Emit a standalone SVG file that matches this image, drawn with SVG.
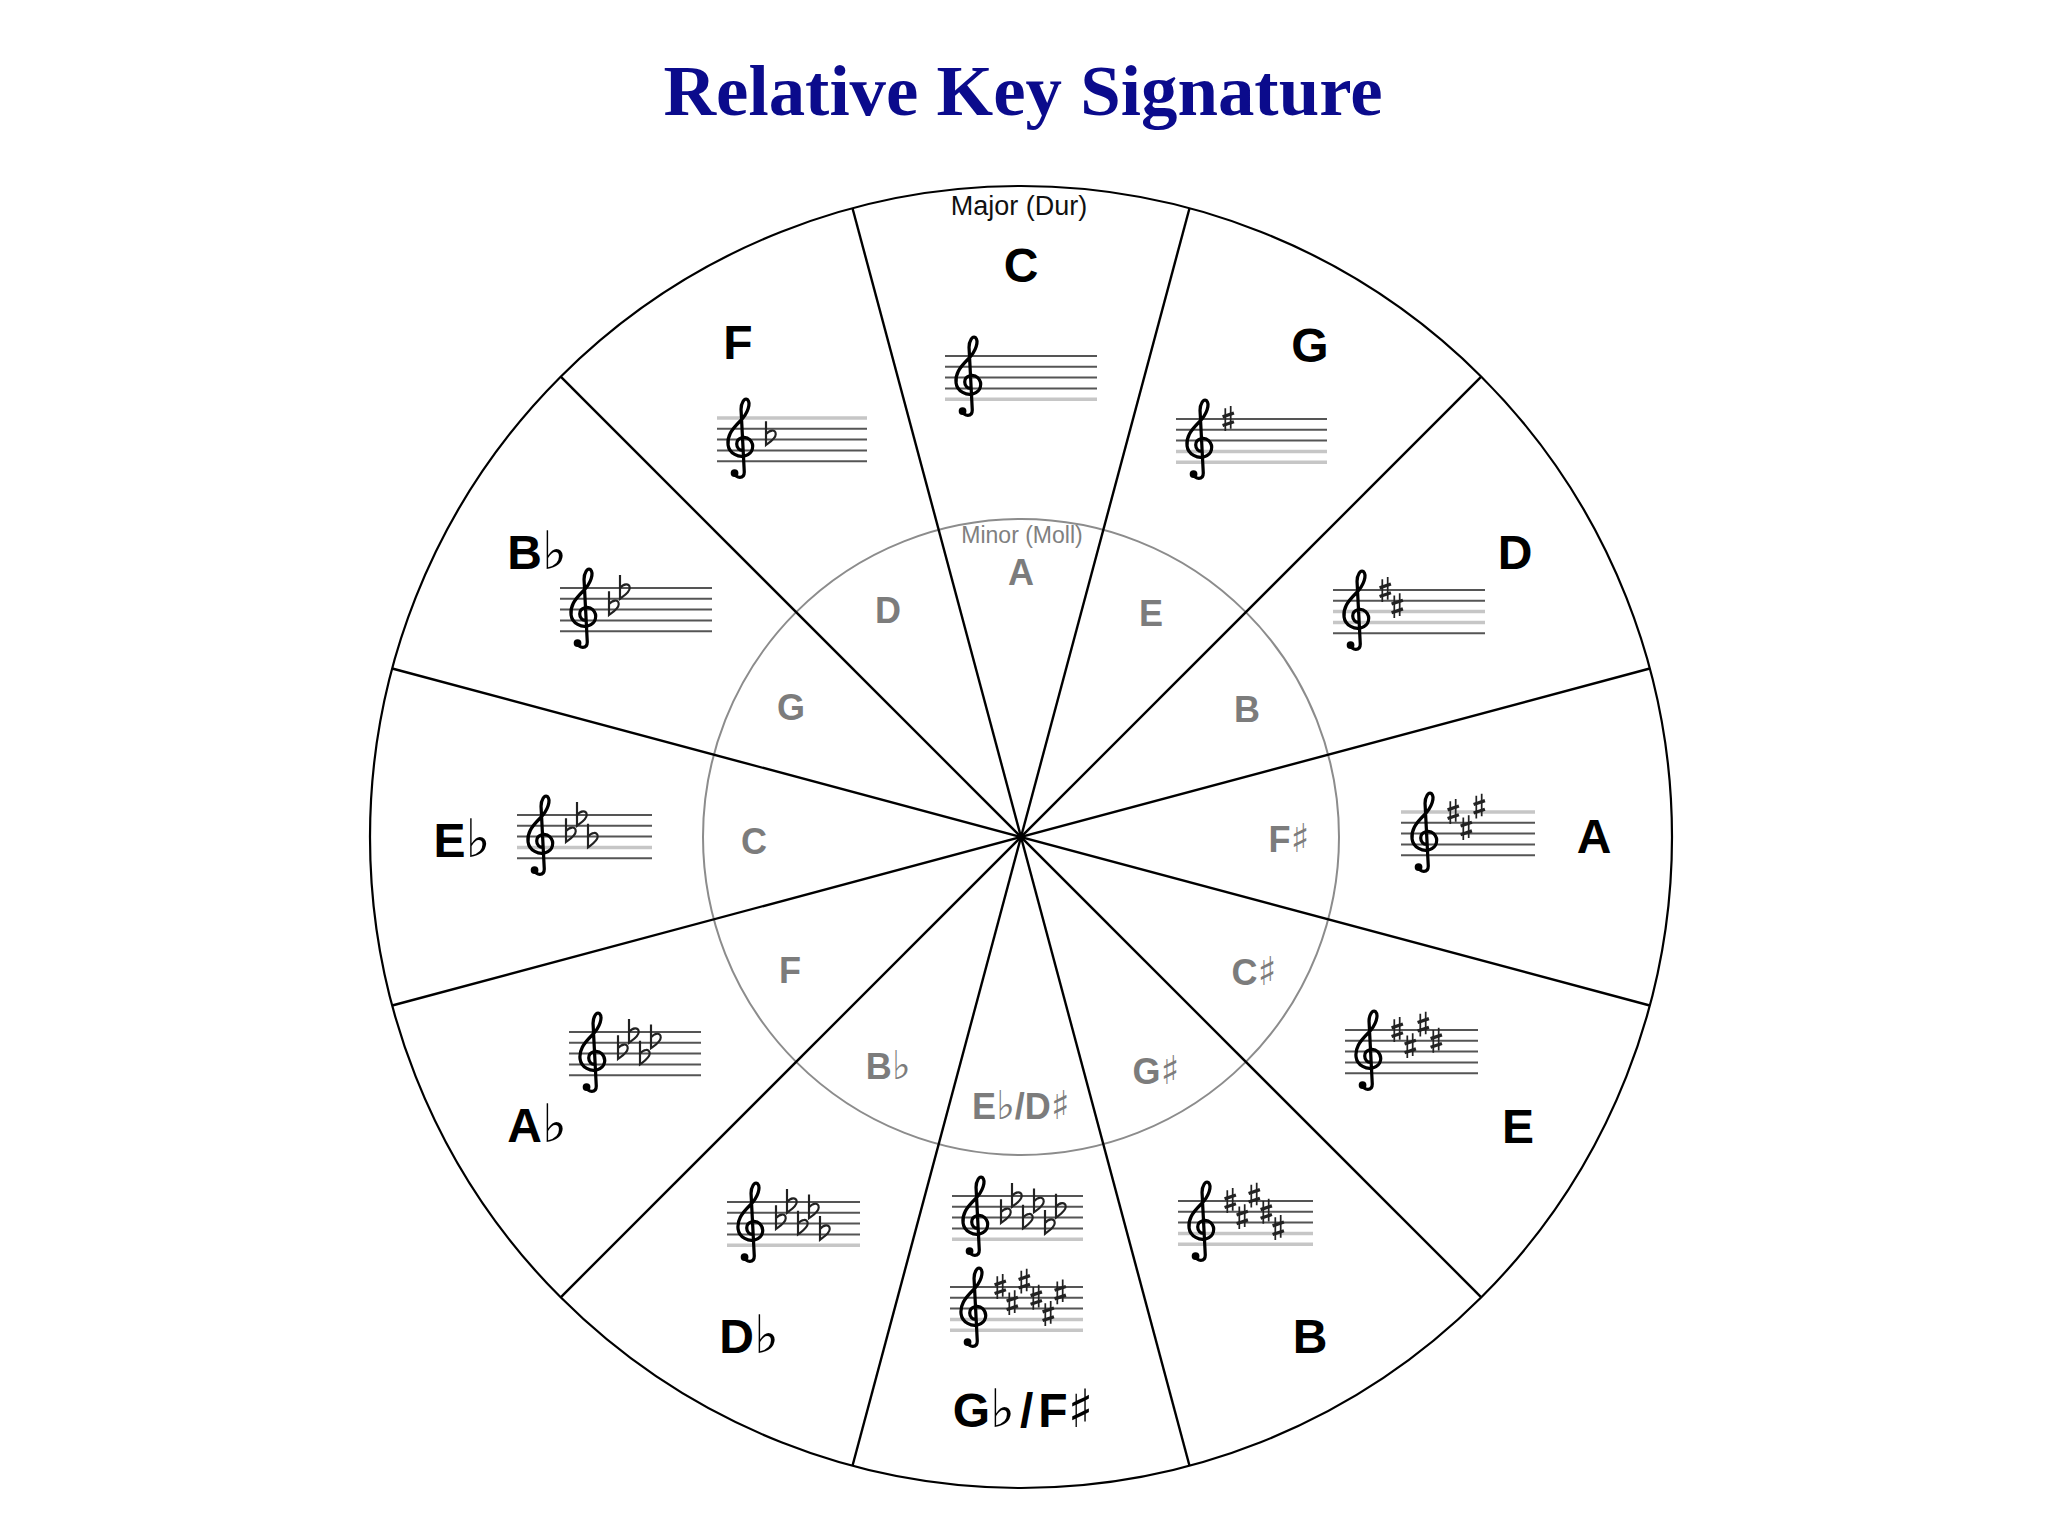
<svg xmlns="http://www.w3.org/2000/svg" xmlns:xlink="http://www.w3.org/1999/xlink" width="2048" height="1536" viewBox="0 0 2048 1536">
<style>
.title{font-family:"Liberation Serif","Times New Roman",serif;font-weight:bold;font-size:72px;fill:#0b0b8c;text-anchor:middle}
.maj{font-family:"Liberation Sans",Arial,sans-serif;font-weight:bold;font-size:48px;fill:#000;text-anchor:middle}
.min{font-family:"Liberation Sans",Arial,sans-serif;font-weight:bold;font-size:36px;fill:#7c7c7c;text-anchor:middle}
.cap{font-family:"Liberation Sans",Arial,sans-serif;font-size:27px;fill:#111;text-anchor:middle}
.capm{font-family:"Liberation Sans",Arial,sans-serif;font-size:23px;fill:#808080;text-anchor:middle}
.acc{font-family:"DejaVu Sans",sans-serif;font-weight:normal;font-size:1.1em}
.sl{stroke:#555;stroke-width:2;fill:none}
.sg{stroke:#c6c6c6;stroke-width:3.5;fill:none}
.sector{stroke:#000;stroke-width:2.4}
</style>
<defs>
<g id="clef">
<circle cx="7" cy="51" r="3.6" fill="#000"/>
<path d="M 7,51 C 8,56 16,57 16,50 L 13,-8 C 13,-14 16,-19 19,-17 C 22,-14 20,-5 12,3 C 4,11 0,17 1,25 C 2,33 11,37 17,35 C 24,33 26,25 21,20 C 17,16 9,18 9,24 C 9,28 12,30 14,30" fill="none" stroke="#000" stroke-width="3" stroke-linecap="round" stroke-linejoin="round"/>
</g>
<path id="flat" d="M 0,-17 L 0,5 C 4,2 9,-1 9,-5 C 9,-10 3,-9 0,-5" fill="none" stroke="#222" stroke-width="2"/>
<g id="sharp" stroke="#222">
<path d="M -2.5,-10 L -2.5,11 M 2.5,-12 L 2.5,9" stroke-width="1.6"/>
<path d="M -5,-2 L 5.5,-5.5 M -5,6 L 5.5,2.5" stroke-width="3"/>
</g>
</defs>
<rect width="2048" height="1536" fill="#fff"/>
<text id="title" class="title" x="1023" y="115" textLength="719" lengthAdjust="spacingAndGlyphs">Relative Key Signature</text>

<g id="wheel">
<circle cx="1021" cy="837" r="651" fill="none" stroke="#000" stroke-width="2.2"/>
<circle cx="1021" cy="837" r="318" fill="none" stroke="#8c8c8c" stroke-width="2"/>
</g>
<g id="connectors" class="sector">
<line x1="1189.5" y1="208.2" x2="852.5" y2="1465.8"/>
<line x1="1481.3" y1="376.7" x2="560.7" y2="1297.3"/>
<line x1="1649.8" y1="668.5" x2="392.2" y2="1005.5"/>
<line x1="1649.8" y1="1005.5" x2="392.2" y2="668.5"/>
<line x1="1481.3" y1="1297.3" x2="560.7" y2="376.7"/>
<line x1="1189.5" y1="1465.8" x2="852.5" y2="208.2"/>
</g>

<g id="major-labels">
<text class="cap" x="1019" y="215">Major (Dur)</text>
<text id="maj-C" class="maj" x="1021" y="282">C</text>
<text id="maj-G" class="maj" x="1310" y="362">G</text>
<text id="maj-D" class="maj" x="1515" y="569">D</text>
<text id="maj-A" class="maj" x="1594" y="853">A</text>
<text id="maj-E" class="maj" x="1518" y="1143">E</text>
<text id="maj-B" class="maj" x="1310" y="1353">B</text>
<text id="maj-Gb" class="maj" x="1023" y="1427">G<tspan class="acc">♭</tspan><tspan dx="5">/</tspan><tspan dx="5">F</tspan><tspan class="acc">♯</tspan></text>
<text id="maj-Db" class="maj" x="749" y="1353">D<tspan class="acc">♭</tspan></text>
<text id="maj-Ab" class="maj" x="537" y="1142">A<tspan class="acc">♭</tspan></text>
<text id="maj-Eb" class="maj" x="462" y="857">E<tspan class="acc">♭</tspan></text>
<text id="maj-Bb" class="maj" x="537" y="569">B<tspan class="acc">♭</tspan></text>
<text id="maj-F" class="maj" x="738" y="359">F</text>
</g>

<g id="minor-labels">
<text class="capm" x="1022" y="543">Minor (Moll)</text>
<text id="min-A" class="min" x="1021" y="585">A</text>
<text id="min-E" class="min" x="1151" y="626">E</text>
<text id="min-B" class="min" x="1247" y="722">B</text>
<text id="min-Fs" class="min" x="1289" y="852">F<tspan class="acc">♯</tspan></text>
<text id="min-Cs" class="min" x="1254" y="985">C<tspan class="acc">♯</tspan></text>
<text id="min-Gs" class="min" x="1156" y="1084">G<tspan class="acc">♯</tspan></text>
<text id="min-Eb" class="min" x="1021" y="1119">E<tspan class="acc">♭</tspan>/D<tspan class="acc">♯</tspan></text>
<text id="min-Bb" class="min" x="888" y="1079">B<tspan class="acc">♭</tspan></text>
<text id="min-F" class="min" x="790" y="983">F</text>
<text id="min-C" class="min" x="754" y="854">C</text>
<text id="min-G" class="min" x="791" y="720">G</text>
<text id="min-D" class="min" x="888" y="623">D</text>
</g>

<g id="staff-C">
<path class="sl" d="M945,356H1097M945,366.8H1097M945,377.6H1097M945,388.4H1097"/>
<path class="sg" d="M945,399.2H1097"/>
<use href="#clef" transform="translate(955,356) scale(1.08)"/>
</g>
<g id="staff-G">
<path class="sl" d="M1176,419H1327M1176,429.8H1327M1176,440.6H1327"/>
<path class="sg" d="M1176,451.4H1327M1176,462.2H1327"/>
<use href="#clef" transform="translate(1186,419) scale(1.08)"/>
<use href="#sharp" transform="translate(1228,419) scale(1.08)"/>
</g>
<g id="staff-D">
<path class="sl" d="M1333,590H1485M1333,600.8H1485M1333,633.2H1485"/>
<path class="sg" d="M1333,611.6H1485M1333,622.4H1485"/>
<use href="#clef" transform="translate(1343,590) scale(1.08)"/>
<use href="#sharp" transform="translate(1385,590) scale(1.08)"/>
<use href="#sharp" transform="translate(1397,606.2) scale(1.08)"/>
</g>
<g id="staff-A">
<path class="sg" d="M1401,812H1535"/>
<path class="sl" d="M1401,822.8H1535M1401,833.6H1535M1401,844.4H1535M1401,855.2H1535"/>
<use href="#clef" transform="translate(1411,812) scale(1.08)"/>
<use href="#sharp" transform="translate(1453,812) scale(1.08)"/>
<use href="#sharp" transform="translate(1466,828.2) scale(1.08)"/>
<use href="#sharp" transform="translate(1479,806.6) scale(1.08)"/>
</g>
<g id="staff-E">
<path class="sl" d="M1345,1030H1478M1345,1040.8H1478M1345,1051.6H1478M1345,1062.4H1478M1345,1073.2H1478"/>
<use href="#clef" transform="translate(1355,1030) scale(1.08)"/>
<use href="#sharp" transform="translate(1397,1030) scale(1.08)"/>
<use href="#sharp" transform="translate(1410,1046.2) scale(1.08)"/>
<use href="#sharp" transform="translate(1423,1024.6) scale(1.08)"/>
<use href="#sharp" transform="translate(1436,1040.8) scale(1.08)"/>
</g>
<g id="staff-B">
<path class="sl" d="M1178,1201H1313M1178,1211.8H1313M1178,1222.6H1313"/>
<path class="sg" d="M1178,1233.4H1313M1178,1244.2H1313"/>
<use href="#clef" transform="translate(1188,1201) scale(1.08)"/>
<use href="#sharp" transform="translate(1230,1201) scale(1.08)"/>
<use href="#sharp" transform="translate(1242,1217.2) scale(1.08)"/>
<use href="#sharp" transform="translate(1254,1195.6) scale(1.08)"/>
<use href="#sharp" transform="translate(1266,1211.8) scale(1.08)"/>
<use href="#sharp" transform="translate(1278,1228) scale(1.08)"/>
</g>
<g id="staff-Gb">
<path class="sl" d="M952,1196H1083M952,1206.8H1083M952,1217.6H1083M952,1228.4H1083"/>
<path class="sg" d="M952,1239.2H1083"/>
<use href="#clef" transform="translate(962,1196) scale(1.08)"/>
<use href="#flat" transform="translate(1001,1217.6) scale(1.08)"/>
<use href="#flat" transform="translate(1012,1201.4) scale(1.08)"/>
<use href="#flat" transform="translate(1023,1223) scale(1.08)"/>
<use href="#flat" transform="translate(1034,1206.8) scale(1.08)"/>
<use href="#flat" transform="translate(1045,1228.4) scale(1.08)"/>
<use href="#flat" transform="translate(1056,1212.2) scale(1.08)"/>
</g>
<g id="staff-Fs">
<path class="sl" d="M950,1287H1083M950,1297.8H1083M950,1308.6H1083"/>
<path class="sg" d="M950,1319.4H1083M950,1330.2H1083"/>
<use href="#clef" transform="translate(960,1287) scale(1.08)"/>
<use href="#sharp" transform="translate(1000,1287) scale(1.08)"/>
<use href="#sharp" transform="translate(1012,1303.2) scale(1.08)"/>
<use href="#sharp" transform="translate(1024,1281.6) scale(1.08)"/>
<use href="#sharp" transform="translate(1036,1297.8) scale(1.08)"/>
<use href="#sharp" transform="translate(1048,1314) scale(1.08)"/>
<use href="#sharp" transform="translate(1060,1292.4) scale(1.08)"/>
</g>
<g id="staff-Db">
<path class="sl" d="M727,1202H860M727,1212.8H860M727,1223.6H860M727,1234.4H860"/>
<path class="sg" d="M727,1245.2H860"/>
<use href="#clef" transform="translate(737,1202) scale(1.08)"/>
<use href="#flat" transform="translate(776,1223.6) scale(1.08)"/>
<use href="#flat" transform="translate(787,1207.4) scale(1.08)"/>
<use href="#flat" transform="translate(798,1229) scale(1.08)"/>
<use href="#flat" transform="translate(809,1212.8) scale(1.08)"/>
<use href="#flat" transform="translate(820,1234.4) scale(1.08)"/>
</g>
<g id="staff-Ab">
<path class="sl" d="M569,1032H701M569,1042.8H701M569,1053.6H701M569,1064.4H701M569,1075.2H701"/>
<use href="#clef" transform="translate(579,1032) scale(1.08)"/>
<use href="#flat" transform="translate(618,1053.6) scale(1.08)"/>
<use href="#flat" transform="translate(629,1037.4) scale(1.08)"/>
<use href="#flat" transform="translate(640,1059) scale(1.08)"/>
<use href="#flat" transform="translate(651,1042.8) scale(1.08)"/>
</g>
<g id="staff-Eb">
<path class="sl" d="M517,815H652M517,825.8H652M517,836.6H652M517,858.2H652"/>
<path class="sg" d="M517,847.4H652"/>
<use href="#clef" transform="translate(527,815) scale(1.08)"/>
<use href="#flat" transform="translate(566,836.6) scale(1.08)"/>
<use href="#flat" transform="translate(577,820.4) scale(1.08)"/>
<use href="#flat" transform="translate(588,842) scale(1.08)"/>
</g>
<g id="staff-Bb">
<path class="sl" d="M560,588H712M560,598.8H712M560,609.6H712M560,620.4H712M560,631.2H712"/>
<use href="#clef" transform="translate(570,588) scale(1.08)"/>
<use href="#flat" transform="translate(609,609.6) scale(1.08)"/>
<use href="#flat" transform="translate(620,593.4) scale(1.08)"/>
</g>
<g id="staff-F">
<path class="sg" d="M717,418H867"/>
<path class="sl" d="M717,428.8H867M717,439.6H867M717,450.4H867M717,461.2H867"/>
<use href="#clef" transform="translate(727,418) scale(1.08)"/>
<use href="#flat" transform="translate(766,439.6) scale(1.08)"/>
</g>
</svg>
